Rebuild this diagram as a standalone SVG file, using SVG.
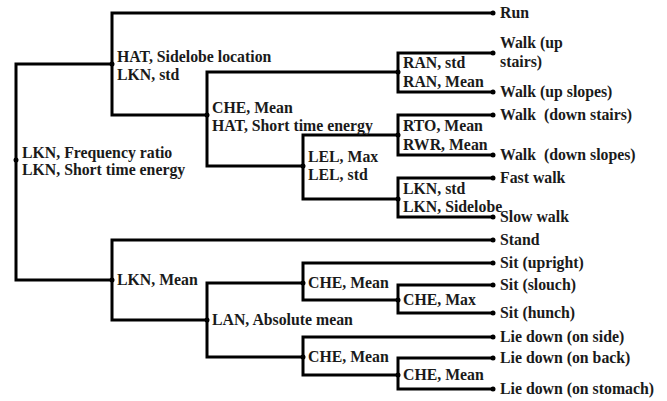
<svg xmlns="http://www.w3.org/2000/svg" width="667" height="401" viewBox="0 0 667 401">
<style>
.e{fill:none;stroke:#000;stroke-width:3;stroke-linejoin:miter}
.d{fill:#000}
.t{font-family:'Liberation Serif',Tinos,'Times New Roman','DejaVu Serif',serif;font-weight:700;font-size:15.8px;fill:#1a1a1a}
</style>
<rect width="667" height="401" fill="#fff"/>
<g id="connectors">
<path class="e" d="M112,64 H16 V280 H112"/>
<path class="e" d="M493,13 H112 V115 H207"/>
<path class="e" d="M398,72 H207 V166 H303"/>
<path class="e" d="M493,53 H398 V92 H493"/>
<path class="e" d="M398,135 H303 V199 H398"/>
<path class="e" d="M493,115 H398 V155 H493"/>
<path class="e" d="M493,178 H398 V217 H493"/>
<path class="e" d="M493,240 H112 V320 H207"/>
<path class="e" d="M303,283 H207 V357 H303"/>
<path class="e" d="M493,263 H303 V300 H398"/>
<path class="e" d="M493,285 H398 V313 H493"/>
<path class="e" d="M493,337 H303 V375 H398"/>
<path class="e" d="M493,358 H398 V389 H493"/>
</g>
<g class="t" font-family="Liberation Serif, Tinos, Times New Roman, serif" font-weight="bold">
<g id="n-root"><circle class="d" cx="16" cy="160" r="2.5"/><text x="22" y="158">LKN, Frequency ratio</text><text x="22" y="175">LKN, Short time energy</text></g>
<g id="n-hat"><circle class="d" cx="112" cy="64" r="2.5"/><text x="117" y="62">HAT, Sidelobe location</text><text x="117" y="80">LKN, std</text></g>
<g id="n-che1"><circle class="d" cx="207" cy="115" r="2.5"/><text x="212" y="113">CHE, Mean</text><text x="212" y="131">HAT, Short time energy</text></g>
<g id="n-ran"><circle class="d" cx="398" cy="72" r="2.5"/><text x="403" y="68">RAN, std</text><text x="403" y="87">RAN, Mean</text></g>
<g id="n-lel"><circle class="d" cx="303" cy="166" r="2.5"/><text x="308" y="162">LEL, Max</text><text x="308" y="180">LEL, std</text></g>
<g id="n-rto"><circle class="d" cx="398" cy="135" r="2.5"/><text x="403" y="131">RTO, Mean</text><text x="403" y="150">RWR, Mean</text></g>
<g id="n-lkn2"><circle class="d" cx="398" cy="199" r="2.5"/><text x="403" y="194">LKN, std</text><text x="403" y="212">LKN, Sidelobe</text></g>
<g id="n-lknmean"><circle class="d" cx="112" cy="280" r="2.5"/><text x="117" y="285">LKN, Mean</text></g>
<g id="n-lan"><circle class="d" cx="207" cy="320" r="2.5"/><text x="212" y="325">LAN, Absolute mean</text></g>
<g id="n-che2"><circle class="d" cx="303" cy="283" r="2.5"/><text x="308" y="288">CHE, Mean</text></g>
<g id="n-chemax"><circle class="d" cx="398" cy="300" r="2.5"/><text x="403" y="305">CHE, Max</text></g>
<g id="n-che3"><circle class="d" cx="303" cy="357" r="2.5"/><text x="308" y="362">CHE, Mean</text></g>
<g id="n-che4"><circle class="d" cx="398" cy="375" r="2.5"/><text x="403" y="380">CHE, Mean</text></g>
<g id="l-run"><circle class="d" cx="493" cy="13" r="2.5"/><text x="500" y="18">Run</text></g>
<g id="l-upstairs"><circle class="d" cx="493" cy="53" r="2.5"/><text x="500" y="48">Walk (up</text><text x="500" y="67">stairs)</text></g>
<g id="l-upslopes"><circle class="d" cx="493" cy="92" r="2.5"/><text x="500" y="97">Walk (up slopes)</text></g>
<g id="l-downstairs"><circle class="d" cx="493" cy="115" r="2.5"/><text x="500" y="120" xml:space="preserve">Walk  (down stairs)</text></g>
<g id="l-downslopes"><circle class="d" cx="493" cy="155" r="2.5"/><text x="500" y="160" xml:space="preserve">Walk  (down slopes)</text></g>
<g id="l-fast"><circle class="d" cx="493" cy="178" r="2.5"/><text x="500" y="183">Fast walk</text></g>
<g id="l-slow"><circle class="d" cx="493" cy="217" r="2.5"/><text x="500" y="222">Slow walk</text></g>
<g id="l-stand"><circle class="d" cx="493" cy="240" r="2.5"/><text x="500" y="245">Stand</text></g>
<g id="l-upright"><circle class="d" cx="493" cy="263" r="2.5"/><text x="500" y="268">Sit (upright)</text></g>
<g id="l-slouch"><circle class="d" cx="493" cy="285" r="2.5"/><text x="500" y="290">Sit (slouch)</text></g>
<g id="l-hunch"><circle class="d" cx="493" cy="313" r="2.5"/><text x="500" y="318">Sit (hunch)</text></g>
<g id="l-side"><circle class="d" cx="493" cy="337" r="2.5"/><text x="500" y="342">Lie down (on side)</text></g>
<g id="l-back"><circle class="d" cx="493" cy="358" r="2.5"/><text x="500" y="363">Lie down (on back)</text></g>
<g id="l-stomach"><circle class="d" cx="493" cy="389" r="2.5"/><text x="500" y="394">Lie down (on stomach)</text></g>
</g>
</svg>
